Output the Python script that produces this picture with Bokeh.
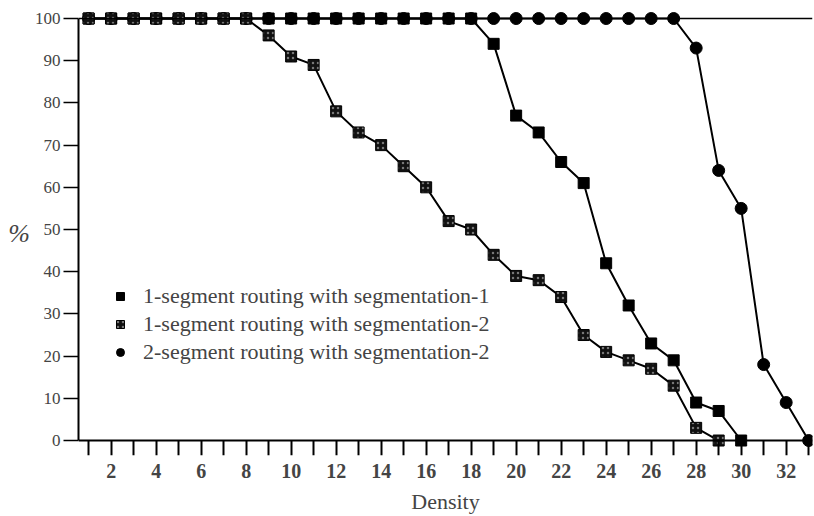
from bokeh.plotting import figure
from bokeh.models import FixedTicker, Span, Legend, LegendItem, LinearAxis
from bokeh.embed import file_html
from bokeh.resources import INLINE

# ---- data ----
density_1 = [1, 2, 3, 4, 5, 6, 7, 8, 9, 10, 11, 12, 13, 14, 15, 16, 17, 18,
             19, 20, 21, 22, 23, 24, 25, 26, 27, 28, 29, 30]
seg1_route1 = [100, 100, 100, 100, 100, 100, 100, 100, 100, 100, 100, 100,
               100, 100, 100, 100, 100, 100, 94, 77, 73, 66, 61, 42, 32, 23,
               19, 9, 7, 0]

density_2 = [1, 2, 3, 4, 5, 6, 7, 8, 9, 10, 11, 12, 13, 14, 15, 16, 17, 18,
             19, 20, 21, 22, 23, 24, 25, 26, 27, 28, 29]
seg2_route1 = [100, 100, 100, 100, 100, 100, 100, 100, 96, 91, 89, 78, 73,
               70, 65, 60, 52, 50, 44, 39, 38, 34, 25, 21, 19, 17, 13, 3, 0]

density_3 = [1, 2, 3, 4, 5, 6, 7, 8, 9, 10, 11, 12, 13, 14, 15, 16, 17, 18,
             19, 20, 21, 22, 23, 24, 25, 26, 27, 28, 29, 30, 31, 32, 33]
seg2_route2 = [100, 100, 100, 100, 100, 100, 100, 100, 100, 100, 100, 100,
               100, 100, 100, 100, 100, 100, 100, 100, 100, 100, 100, 100,
               100, 100, 100, 93, 64, 55, 18, 9, 0]

x_ticks = [1, 2, 3, 4, 5, 6, 7, 8, 9, 10, 11, 12, 13, 14, 15, 16, 17, 18, 19,
           20, 21, 22, 23, 24, 25, 26, 27, 28, 29, 30, 31, 32, 33]
x_tick_labels = ["", "2", "", "4", "", "6", "", "8", "", "10", "", "12", "",
                 "14", "", "16", "", "18", "", "20", "", "22", "", "24", "",
                 "26", "", "28", "", "30", "", "32", ""]
y_ticks = [0, 10, 20, 30, 40, 50, 60, 70, 80, 90, 100]

labels = ["1-segment routing with segmentation-1",
          "1-segment routing with segmentation-2",
          "2-segment routing with segmentation-2"]

FONT = "Liberation Serif"

p = figure(width=814, height=516, output_backend="svg", toolbar_location=None,
           x_range=(0.55, 33.17), y_range=(-3.55, 101.9),
           min_border_left=78, min_border_right=2, min_border_top=10,
           min_border_bottom=61)
p.outline_line_color = None
p.grid.visible = False
p.background_fill_color = "white"

# x axis line and ticks drawn at y = 0 (no labels)
xa = p.xaxis[0]
xa.fixed_location = 0
xa.ticker = FixedTicker(ticks=x_ticks)
xa.major_tick_out = 15
xa.major_tick_in = 0
xa.minor_tick_out = 0
xa.minor_tick_in = 0
xa.axis_line_width = 2
xa.major_tick_line_width = 2
xa.major_label_text_color = None

# second x axis at the frame bottom carrying labels and title
xl = LinearAxis(ticker=FixedTicker(ticks=x_ticks))
xl.major_label_overrides = {t: l for t, l in zip(x_ticks, x_tick_labels)}
xl.axis_line_color = None
xl.major_tick_line_color = None
xl.minor_tick_line_color = None
xl.major_tick_out = 0
xl.major_tick_in = 0
xl.minor_tick_out = 0
xl.minor_tick_in = 0
xl.major_label_text_font = FONT
xl.major_label_text_font_style = "bold"
xl.major_label_text_font_size = "20px"
xl.major_label_standoff = 8
xl.axis_label = "Density"
xl.axis_label_text_font = FONT
xl.axis_label_text_font_style = "normal"
xl.axis_label_text_font_size = "22px"
xl.axis_label_standoff = 8
p.below = [xl, xa]

ya = p.yaxis[0]
ya.ticker = FixedTicker(ticks=y_ticks)
ya.bounds = (0, 100)
ya.major_tick_out = 15
ya.major_tick_in = 0
ya.minor_tick_out = 0
ya.minor_tick_in = 0
ya.axis_line_width = 2
ya.major_tick_line_width = 1.5
ya.major_label_text_font = FONT
ya.major_label_text_font_size = "17px"
ya.major_label_standoff = 3
ya.axis_label = "%"
ya.axis_label_orientation = "horizontal"
ya.axis_label_text_font = FONT
ya.axis_label_text_font_style = "italic"
ya.axis_label_text_font_size = "26px"
ya.axis_label_standoff = 2

p.add_layout(Span(location=100, dimension="width", line_color="black",
                  line_width=1.5))

# draw order: circles under, then squares
l3 = p.line(density_3, seg2_route2, line_color="black", line_width=2)
s3 = p.scatter(density_3, seg2_route2, marker="circle", size=12,
               fill_color="black", line_color="black")
l1 = p.line(density_1, seg1_route1, line_color="black", line_width=2)
s1 = p.scatter(density_1, seg1_route1, marker="square", size=11,
               fill_color="black", line_color="black")
l2 = p.line(density_2, seg2_route1, line_color="black", line_width=2)
s2 = p.scatter(density_2, seg2_route1, marker="square", size=11,
               fill_color="#111111", line_color="black",
               hatch_pattern="dot", hatch_color="#777777", hatch_scale=5,
               hatch_weight=1)

legend = Legend(items=[LegendItem(label=labels[0], renderers=[s1]),
                       LegendItem(label=labels[1], renderers=[s2]),
                       LegendItem(label=labels[2], renderers=[s3])],
                location=(32, 90))
legend.border_line_color = None
legend.background_fill_alpha = 0
legend.label_text_font = FONT
legend.label_text_font_size = "22px"
legend.label_standoff = 13
legend.glyph_width = 20
legend.glyph_height = 20
legend.spacing = 2
legend.padding = 0
legend.margin = 0
p.add_layout(legend)

open("out.html", "w").write(file_html(p, INLINE))
